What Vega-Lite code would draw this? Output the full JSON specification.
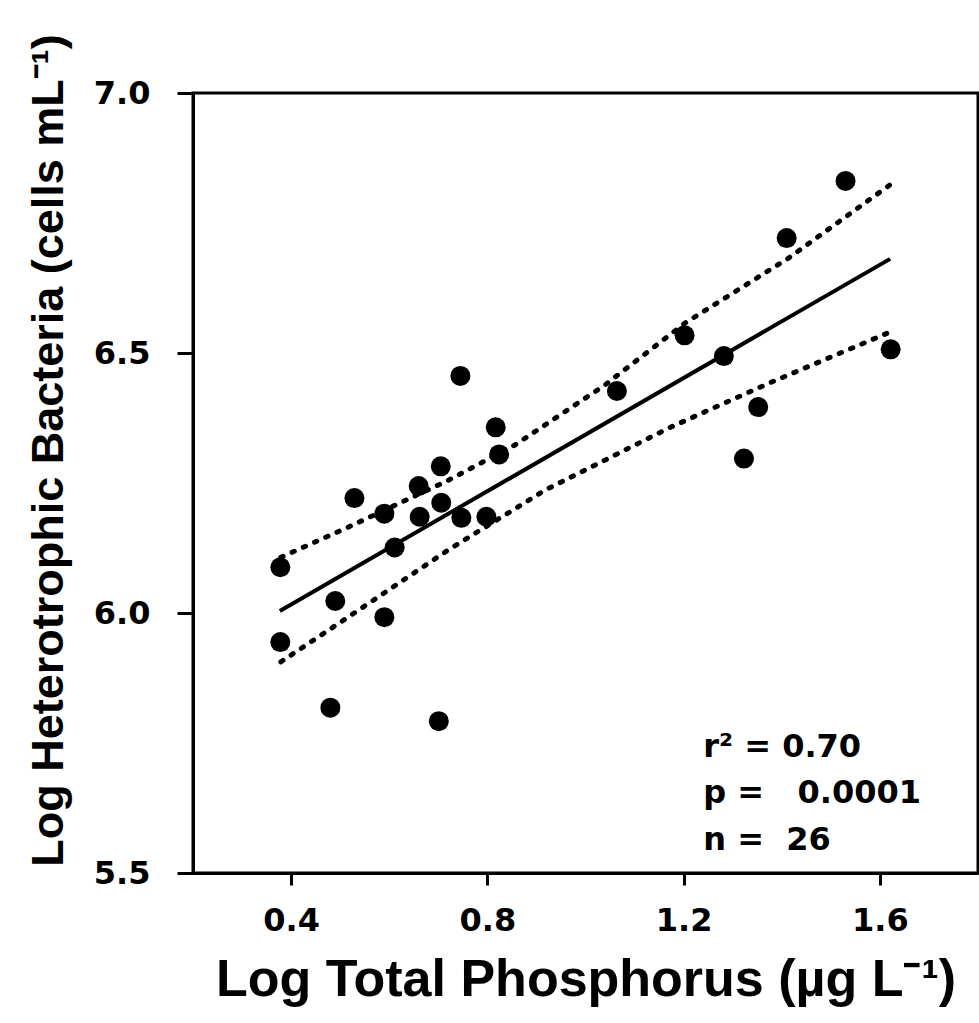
{
  "$schema": "https://vega.github.io/schema/vega-lite/v6.json",
  "width": 785,
  "height": 780,
  "autosize": {"type": "none"},
  "padding": {"left": 193, "top": 93, "right": 1, "bottom": 150},
  "background": "white",
  "config": {
    "view": {"stroke": "black", "strokeWidth": 3},
    "axis": {
      "grid": false,
      "domainColor": "black",
      "domainWidth": 3,
      "tickColor": "black",
      "tickWidth": 3,
      "labelColor": "black",
      "labelFont": "DejaVu Sans",
      "labelFontWeight": "bold",
      "labelFontSize": 32,
      "titleColor": "black",
      "titleFont": "Liberation Sans",
      "titleFontWeight": "bold"
    }
  },
  "datasets": {
    "points": [
      {"tp": 0.378, "bact": 6.088},
      {"tp": 0.378, "bact": 5.944},
      {"tp": 0.480, "bact": 5.818},
      {"tp": 0.490, "bact": 6.023},
      {"tp": 0.529, "bact": 6.221},
      {"tp": 0.590, "bact": 6.191},
      {"tp": 0.590, "bact": 5.992},
      {"tp": 0.611, "bact": 6.126},
      {"tp": 0.660, "bact": 6.244},
      {"tp": 0.662, "bact": 6.185},
      {"tp": 0.701, "bact": 5.792},
      {"tp": 0.705, "bact": 6.282},
      {"tp": 0.706, "bact": 6.212},
      {"tp": 0.745, "bact": 6.456},
      {"tp": 0.747, "bact": 6.183},
      {"tp": 0.798, "bact": 6.185},
      {"tp": 0.817, "bact": 6.357},
      {"tp": 0.824, "bact": 6.305},
      {"tp": 1.064, "bact": 6.427},
      {"tp": 1.202, "bact": 6.534},
      {"tp": 1.282, "bact": 6.494},
      {"tp": 1.323, "bact": 6.297},
      {"tp": 1.352, "bact": 6.396},
      {"tp": 1.410, "bact": 6.721},
      {"tp": 1.530, "bact": 6.831},
      {"tp": 1.622, "bact": 6.507}
    ],
    "fit": [
      {"tp": 0.377, "bact": 6.004, "series": "fit"},
      {"tp": 1.621, "bact": 6.681, "series": "fit"},
      {"tp": 0.379, "bact": 6.107, "series": "upper"},
      {"tp": 0.516, "bact": 6.165, "series": "upper"},
      {"tp": 0.720, "bact": 6.255, "series": "upper"},
      {"tp": 0.856, "bact": 6.323, "series": "upper"},
      {"tp": 1.039, "bact": 6.438, "series": "upper"},
      {"tp": 1.202, "bact": 6.557, "series": "upper"},
      {"tp": 1.413, "bact": 6.682, "series": "upper"},
      {"tp": 1.620, "bact": 6.823, "series": "upper"},
      {"tp": 0.379, "bact": 5.906, "series": "lower"},
      {"tp": 0.516, "bact": 5.992, "series": "lower"},
      {"tp": 0.720, "bact": 6.121, "series": "lower"},
      {"tp": 0.917, "bact": 6.236, "series": "lower"},
      {"tp": 1.175, "bact": 6.358, "series": "lower"},
      {"tp": 1.379, "bact": 6.444, "series": "lower"},
      {"tp": 1.620, "bact": 6.540, "series": "lower"}
    ],
    "stats": [
      {"tp": 1.24, "bact": 5.723, "label": "r² = 0.70"},
      {"tp": 1.24, "bact": 5.634, "label": "p = \u00a0\u00a00.0001"},
      {"tp": 1.24, "bact": 5.544, "label": "n = \u00a026"}
    ]
  },
  "encoding": {
    "x": {
      "field": "tp",
      "type": "quantitative",
      "scale": {"domain": [0.2, 1.8], "nice": false, "zero": false},
      "axis": {
        "title": "Log Total Phosphorus (µg L⁻¹)",
        "values": [0.4, 0.8, 1.2, 1.6],
        "format": ".1f",
        "tickSize": 12,
        "labelPadding": 20,
        "titlePadding": 18,
        "titleFontSize": 52
      }
    },
    "y": {
      "field": "bact",
      "type": "quantitative",
      "scale": {"domain": [5.5, 7.0], "nice": false, "zero": false},
      "axis": {
        "title": "Log Heterotrophic Bacteria (cells mL⁻¹)",
        "values": [5.5, 6.0, 6.5, 7.0],
        "format": ".1f",
        "tickSize": 16,
        "labelPadding": 27,
        "titlePadding": 22,
        "titleFontSize": 45,
        "titleY": 357
      }
    }
  },
  "layer": [
    {
      "data": {"name": "fit"},
      "transform": [{"filter": "datum.series === 'fit'"}],
      "mark": {"type": "line", "color": "black", "strokeWidth": 4},
      "encoding": {"detail": {"field": "series"}}
    },
    {
      "data": {"name": "fit"},
      "transform": [{"filter": "datum.series !== 'fit'"}],
      "mark": {"type": "line", "color": "black", "strokeWidth": 5, "strokeCap": "round", "strokeDash": [2.5, 9.8]},
      "encoding": {"detail": {"field": "series"}}
    },
    {
      "data": {"name": "points"},
      "mark": {"type": "circle", "color": "black", "opacity": 1, "size": 400}
    },
    {
      "data": {"name": "stats"},
      "mark": {"type": "text", "align": "left", "baseline": "alphabetic", "font": "DejaVu Sans", "fontWeight": "bold", "fontSize": 32, "color": "black"},
      "encoding": {"text": {"field": "label"}}
    }
  ]
}
